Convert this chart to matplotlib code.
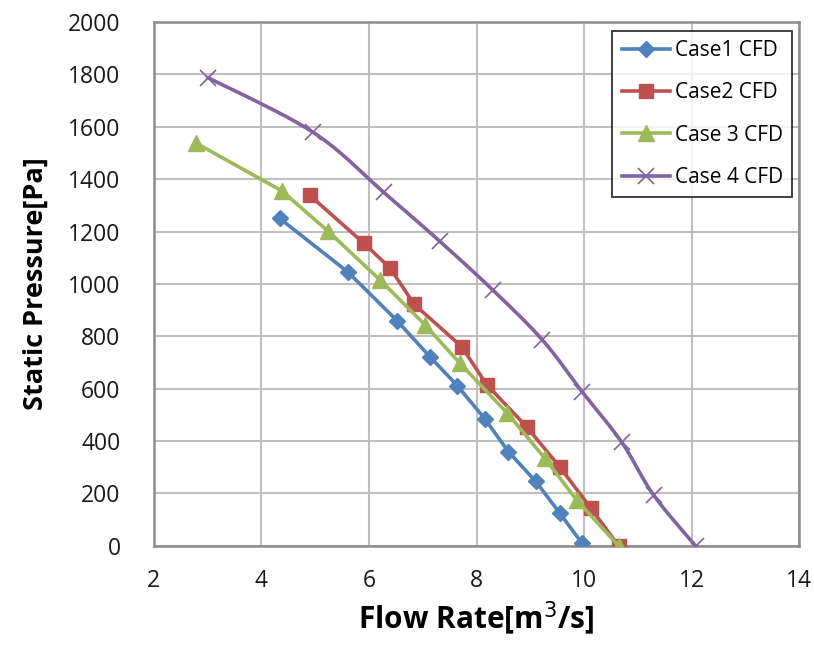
import matplotlib.pyplot as plt
import numpy as np

plt.rcParams["font.family"] = ["Open Sans", "DejaVu Sans"]

# Fan curves: flow rate [m3/s] vs static pressure [Pa]
case1_flow = [4.34, 5.61, 6.52, 7.14, 7.64, 8.16, 8.59, 9.10, 9.55, 9.96]
case1_pres = [1250, 1045, 860, 720, 612, 483, 360, 246, 124, 10]

case2_flow = [4.90, 5.90, 6.39, 6.84, 7.72, 8.19, 8.93, 9.55, 10.12, 10.64]
case2_pres = [1338, 1156, 1061, 922, 761, 615, 455, 300, 145, 0]

case3_flow = [2.78, 4.38, 5.24, 6.20, 7.04, 7.69, 8.56, 9.27, 9.86, 10.64]
case3_pres = [1538, 1355, 1201, 1016, 844, 697, 509, 334, 175, 0]

case4_flow = [3.01, 4.96, 6.27, 7.32, 8.31, 9.22, 9.96, 10.70, 11.29, 12.07]
case4_pres = [1787, 1579, 1350, 1162, 975, 787, 589, 395, 194, 0]

x_ticks = [2, 4, 6, 8, 10, 12, 14]
y_ticks = list(range(0, 2001, 200))


def smooth(x, y, n=20):
    # Catmull-Rom spline through the points (like a "smoothed line" chart)
    p = np.column_stack([x, y]).astype(float)
    p = np.vstack([p[0], p, p[-1]])
    out = []
    t = np.linspace(0, 1, n, endpoint=False)[:, None]
    for i in range(1, len(p) - 2):
        p0, p1, p2, p3 = p[i - 1], p[i], p[i + 1], p[i + 2]
        seg = 0.5 * ((2 * p1) + (-p0 + p2) * t
                     + (2 * p0 - 5 * p1 + 4 * p2 - p3) * t ** 2
                     + (-p0 + 3 * p1 - 3 * p2 + p3) * t ** 3)
        out.append(seg)
    out.append(p[-2][None, :])
    out = np.vstack(out)
    return out[:, 0], out[:, 1]


fig = plt.figure(figsize=(8.14, 6.46), dpi=100)
ax = fig.add_axes([0.189, 0.155, 0.793, 0.811])

ax.plot(case1_flow, case1_pres, color="#4F81BD", lw=2.6, marker="D",
        ms=8, mec="#4F81BD", label="Case1 CFD", zorder=3)
ax.plot(case2_flow, case2_pres, color="#C0504D", lw=2.6, marker="s",
        ms=10, mec="#C0504D", label="Case2 CFD", zorder=3)
ax.plot(case3_flow, case3_pres, color="#9BBB59", lw=2.6, marker="^",
        ms=11, mec="#9BBB59", label="Case 3 CFD", zorder=4)

sx, sy = smooth(case4_flow, case4_pres)
ax.plot(sx, sy, color="#8064A2", lw=2.6, zorder=3)
ax.plot(case4_flow, case4_pres, ls="none", marker="x", ms=11, mew=1.2,
        color="#8064A2", zorder=3)
# legend proxy for case 4 (line + marker)
ax.plot([], [], color="#8064A2", lw=2.6, marker="x", ms=11, mew=1.2,
        label="Case 4 CFD")

ax.set_xlim(2, 14)
ax.set_ylim(0, 2000)
ax.set_xticks(x_ticks)
ax.set_yticks(y_ticks)
ax.grid(True, color="#BFBFBF", lw=1.5)
ax.set_axisbelow(True)
for s in ax.spines.values():
    s.set_color("#8C8C8C")
    s.set_linewidth(1.8)
ax.tick_params(length=0, labelsize=16.5, colors="#1a1a1a")
ax.tick_params(axis="y", pad=24)
ax.tick_params(axis="x", pad=17)

ax.set_xlabel("Flow Rate[m$^3$/s]", fontsize=21.5, fontweight="bold", labelpad=4)
ax.set_ylabel("Static Pressure[Pa]", fontsize=19.5, fontweight="bold", labelpad=14)

leg = ax.legend(loc="upper right", bbox_to_anchor=(0.989, 0.983), fontsize=15,
                frameon=True, fancybox=False, edgecolor="black",
                handlelength=2.3, handletextpad=0.25, labelspacing=1.02,
                borderpad=0.45, borderaxespad=0)
leg.get_frame().set_linewidth(1.3)
leg.set_zorder(10)

plt.savefig("out.png", dpi=100)
